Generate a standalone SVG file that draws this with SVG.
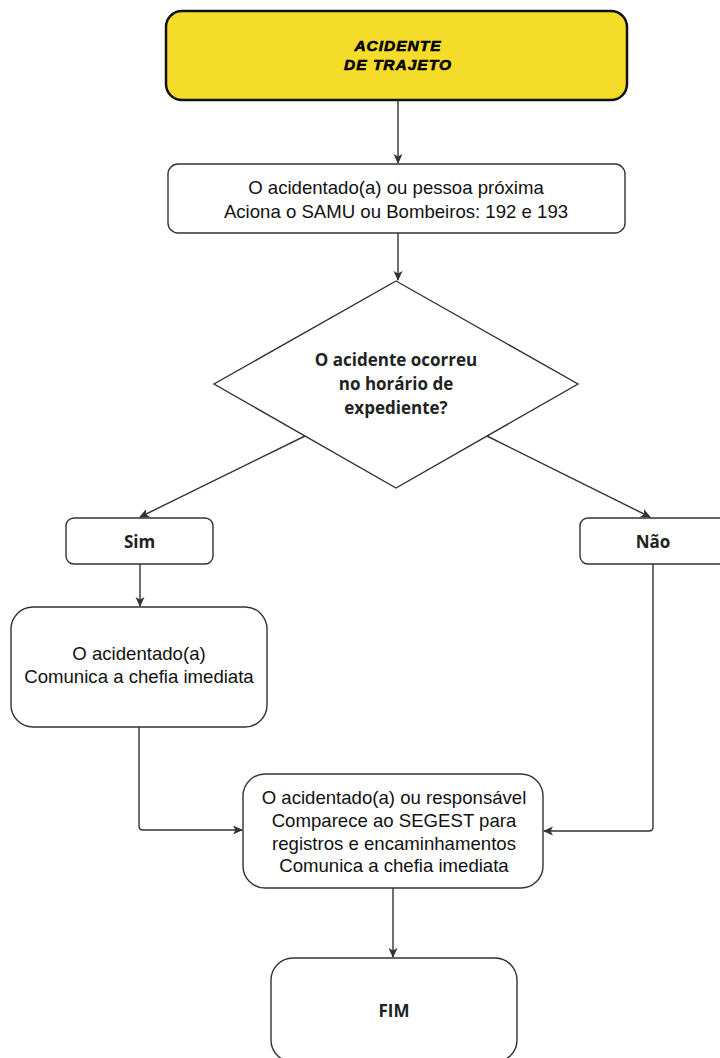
<svg xmlns="http://www.w3.org/2000/svg" width="720" height="1058" viewBox="0 0 720 1058">
<defs>
<marker id="arr" viewBox="0 0 10 10" refX="9" refY="5" markerWidth="10" markerHeight="10" markerUnits="userSpaceOnUse" orient="auto">
<path d="M0,0.5 L10,5 L0,9.5 L2.5,5 Z" fill="#333"/>
</marker>
<style>
.box{fill:#fff;stroke:#333;stroke-width:1.4}
.t{font-family:"Liberation Sans",Arial,sans-serif;font-size:18.6px;fill:#111;text-anchor:middle}
.b{font-family:"Open Sans","Noto Sans",sans-serif;font-size:17px;font-weight:bold;fill:#222;text-anchor:middle}
.h{font-family:"Liberation Sans",Arial,sans-serif;font-size:15.5px;font-weight:bold;font-style:italic;letter-spacing:1px;fill:#000;stroke:#000;stroke-width:0.6px;text-anchor:middle}
.c{fill:none;stroke:#333;stroke-width:1.4}
</style>
</defs>
<rect width="720" height="1058" fill="#fff"/>
<g id="inicio">
<rect x="166" y="11" width="461" height="89" rx="16" fill="#F5DC2A" stroke="#111" stroke-width="2.5"/>
<text class="h" x="398" y="50.5">ACIDENTE</text>
<text class="h" x="398" y="69.5">DE TRAJETO</text>
</g>
<g id="aciona">
<rect class="box" x="168" y="164" width="457" height="69" rx="10"/>
<text class="t" x="396" y="194">O acidentado(a) ou pessoa próxima</text>
<text class="t" x="396" y="218">Aciona o SAMU ou Bombeiros: 192 e 193</text>
</g>
<g id="decisao">
<polygon class="box" points="396,281 578,384 396,488 214,384"/>
<text class="b" x="396" y="366">O acidente ocorreu</text>
<text class="b" x="396" y="390">no horário de</text>
<text class="b" x="396" y="414">expediente?</text>
</g>
<g id="sim">
<rect class="box" x="66" y="518" width="147" height="46" rx="8"/>
<text class="b" x="139.5" y="548">Sim</text>
</g>
<g id="nao">
<rect class="box" x="580" y="518" width="147" height="46" rx="8"/>
<text class="b" x="653" y="548">Não</text>
</g>
<g id="comunica">
<rect class="box" x="11" y="607" width="256" height="120" rx="22"/>
<text class="t" x="139" y="660">O acidentado(a)</text>
<text class="t" x="139" y="683">Comunica a chefia imediata</text>
</g>
<g id="segest">
<rect class="box" x="243" y="774" width="300" height="114" rx="22"/>
<text class="t" x="394" y="804">O acidentado(a) ou responsável</text>
<text class="t" x="394" y="827">Comparece ao SEGEST para</text>
<text class="t" x="394" y="850">registros e encaminhamentos</text>
<text class="t" x="394" y="872">Comunica a chefia imediata</text>
</g>
<g id="fim">
<rect class="box" x="271" y="958" width="246" height="104" rx="22"/>
<text class="b" x="394" y="1017">FIM</text>
</g>
<g id="connectors">
<path class="c" d="M398,100 L398,163" marker-end="url(#arr)"/>
<path class="c" d="M398,233 L398,280" marker-end="url(#arr)"/>
<path class="c" d="M305,436 L140,517" marker-end="url(#arr)"/>
<path class="c" d="M487,436 L650,517" marker-end="url(#arr)"/>
<path class="c" d="M140,564 L140,606" marker-end="url(#arr)"/>
<path class="c" d="M139,727 L139,826 Q139,830 143,830 L242,830" marker-end="url(#arr)"/>
<path class="c" d="M653,564 L653,827 Q653,831 649,831 L544,831" marker-end="url(#arr)"/>
<path class="c" d="M393,888 L393,957" marker-end="url(#arr)"/>
</g>
</svg>
